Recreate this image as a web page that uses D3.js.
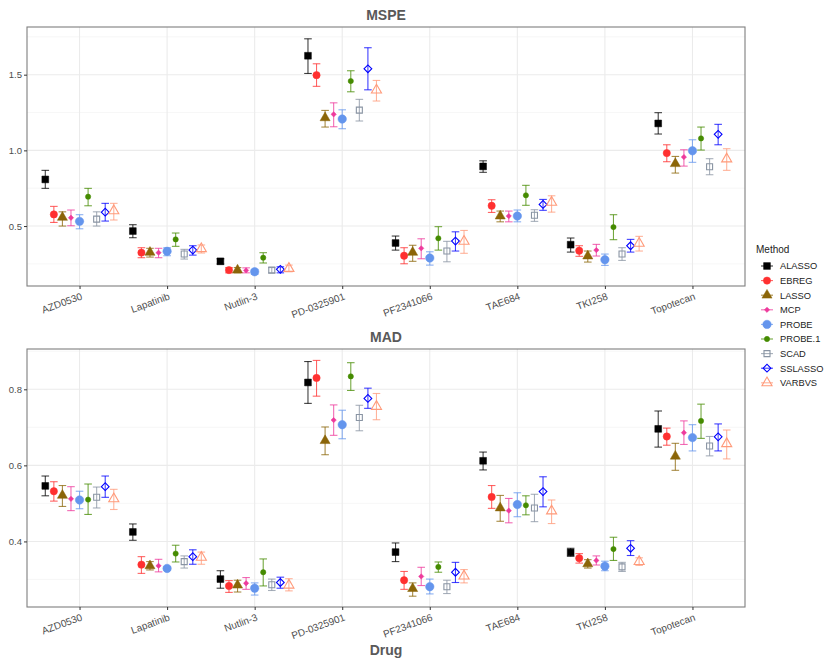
<!DOCTYPE html>
<html lang="en">
<head>
<meta charset="UTF-8">
<title>MSPE / MAD</title>
<script src="https://d3js.org/d3.v7.min.js"></script>
<style>
  body { margin: 0; background: #fff; }
  text { font-family: "Liberation Sans", Arial, sans-serif; }
</style>
</head>
<body>
<svg class="chart"></svg>
<script>
const W = 830, H = 664

const drugs = ['AZD0530', 'Lapatinib', 'Nutlin-3', 'PD-0325901', 'PF2341066', 'TAE684', 'TKI258', 'Topotecan']
const methods = ['ALASSO', 'EBREG', 'LASSO', 'MCP', 'PROBE', 'PROBE.1', 'SCAD', 'SSLASSO', 'VARBVS']
const colors = ['#000000', '#FF3030', '#8B6508', '#EE3A9C', '#6495ED', '#458B00', '#8994A3', '#0000FF', '#FF9A7A']

// one row per method, one value per drug
const mspeMean = [
  [0.808, 0.467, 0.267, 1.625, 0.388, 0.894, 0.377, 1.178],
  [0.577, 0.324, 0.209, 1.497, 0.304, 0.634, 0.337, 0.982],
  [0.557, 0.326, 0.209, 1.215, 0.326, 0.566, 0.302, 0.912],
  [0.555, 0.324, 0.207, 1.238, 0.353, 0.566, 0.341, 0.956],
  [0.531, 0.333, 0.198, 1.207, 0.289, 0.566, 0.278, 0.997],
  [0.694, 0.412, 0.291, 1.458, 0.419, 0.703, 0.493, 1.079],
  [0.546, 0.315, 0.209, 1.266, 0.335, 0.571, 0.315, 0.892],
  [0.592, 0.341, 0.214, 1.539, 0.401, 0.643, 0.370, 1.106],
  [0.601, 0.350, 0.220, 1.398, 0.399, 0.657, 0.386, 0.943]
]
const mspeLo = [
  [0.749, 0.423, 0.249, 1.508, 0.341, 0.855, 0.328, 1.108],
  [0.524, 0.291, 0.191, 1.423, 0.251, 0.590, 0.300, 0.925],
  [0.500, 0.295, 0.191, 1.154, 0.267, 0.528, 0.262, 0.850],
  [0.502, 0.291, 0.191, 1.156, 0.284, 0.528, 0.302, 0.896],
  [0.482, 0.304, 0.181, 1.143, 0.242, 0.528, 0.240, 0.921],
  [0.634, 0.366, 0.256, 1.387, 0.341, 0.637, 0.410, 1.002],
  [0.500, 0.282, 0.191, 1.194, 0.264, 0.531, 0.273, 0.839],
  [0.533, 0.308, 0.191, 1.400, 0.335, 0.604, 0.328, 1.037],
  [0.540, 0.322, 0.198, 1.326, 0.320, 0.592, 0.335, 0.868]
]
const mspeHi = [
  [0.868, 0.509, 0.284, 1.737, 0.434, 0.931, 0.421, 1.249],
  [0.630, 0.357, 0.226, 1.572, 0.357, 0.674, 0.370, 1.037],
  [0.594, 0.353, 0.226, 1.264, 0.373, 0.599, 0.335, 0.960],
  [0.606, 0.353, 0.224, 1.314, 0.416, 0.599, 0.379, 1.004],
  [0.575, 0.357, 0.214, 1.268, 0.330, 0.606, 0.315, 1.070],
  [0.749, 0.454, 0.324, 1.526, 0.496, 0.769, 0.575, 1.154],
  [0.594, 0.346, 0.226, 1.337, 0.399, 0.608, 0.357, 0.945],
  [0.650, 0.370, 0.231, 1.678, 0.462, 0.676, 0.412, 1.172],
  [0.650, 0.375, 0.242, 1.462, 0.471, 0.700, 0.432, 1.011]
]

const madMean = [
  [0.546, 0.425, 0.301, 0.818, 0.372, 0.612, 0.371, 0.696],
  [0.532, 0.339, 0.283, 0.830, 0.298, 0.517, 0.356, 0.676],
  [0.521, 0.336, 0.285, 0.665, 0.276, 0.488, 0.341, 0.624],
  [0.512, 0.336, 0.290, 0.719, 0.308, 0.481, 0.350, 0.686],
  [0.509, 0.329, 0.277, 0.707, 0.281, 0.497, 0.335, 0.673],
  [0.510, 0.368, 0.319, 0.834, 0.333, 0.495, 0.380, 0.717],
  [0.516, 0.347, 0.286, 0.726, 0.281, 0.488, 0.333, 0.651],
  [0.544, 0.360, 0.292, 0.776, 0.319, 0.531, 0.382, 0.675],
  [0.512, 0.358, 0.285, 0.755, 0.309, 0.480, 0.347, 0.657]
]
const madLo = [
  [0.520, 0.403, 0.277, 0.763, 0.347, 0.588, 0.361, 0.648],
  [0.506, 0.316, 0.266, 0.782, 0.274, 0.487, 0.343, 0.653],
  [0.492, 0.325, 0.267, 0.628, 0.256, 0.453, 0.330, 0.587],
  [0.481, 0.320, 0.274, 0.679, 0.284, 0.449, 0.338, 0.655],
  [0.486, 0.324, 0.259, 0.670, 0.262, 0.465, 0.323, 0.638],
  [0.471, 0.346, 0.283, 0.797, 0.319, 0.470, 0.350, 0.671],
  [0.488, 0.330, 0.271, 0.691, 0.263, 0.452, 0.321, 0.625],
  [0.516, 0.340, 0.277, 0.750, 0.292, 0.491, 0.363, 0.638],
  [0.484, 0.340, 0.270, 0.720, 0.291, 0.447, 0.337, 0.617]
]
const madHi = [
  [0.572, 0.446, 0.323, 0.873, 0.396, 0.635, 0.382, 0.743],
  [0.557, 0.360, 0.297, 0.876, 0.321, 0.547, 0.368, 0.698],
  [0.547, 0.347, 0.298, 0.701, 0.291, 0.521, 0.352, 0.658],
  [0.544, 0.353, 0.305, 0.759, 0.332, 0.513, 0.362, 0.717],
  [0.532, 0.334, 0.291, 0.745, 0.301, 0.528, 0.348, 0.707],
  [0.551, 0.390, 0.354, 0.870, 0.346, 0.520, 0.411, 0.761],
  [0.543, 0.362, 0.301, 0.758, 0.298, 0.524, 0.345, 0.676],
  [0.572, 0.378, 0.306, 0.803, 0.345, 0.570, 0.402, 0.709],
  [0.537, 0.372, 0.302, 0.789, 0.326, 0.509, 0.357, 0.693]
]

const mspeTicks = [0.5, 1.0, 1.5]
const mspeMinor = [0.25, 0.75, 1.25, 1.75]
const madTicks = [0.4, 0.6, 0.8]
const madMinor = [0.3, 0.5, 0.7, 0.9]

const panels = [
  { title: 'MSPE', top: 27, bottom: 286, domain: [0.104, 1.815], ticks: mspeTicks, minor: mspeMinor, mean: mspeMean, lo: mspeLo, hi: mspeHi },
  { title: 'MAD', top: 349, bottom: 607, domain: [0.2276, 0.906], ticks: madTicks, minor: madMinor, mean: madMean, lo: madLo, hi: madHi }
]

const left = 27, right = 745
const svg = d3.select('.chart').attr('width', W).attr('height', H)
  .attr('viewBox', `0 0 ${W} ${H}`)

const x = d3.scalePoint().domain(drugs).range([left, right]).padding(0.6)
const dodge = x.step() * 0.88 / methods.length

// shape per method: [symbol type, size, filled, rotation]
const shapes = [
  [d3.symbolSquare, 46, true, 0],
  [d3.symbolCircle, 42, true, 0],
  [d3.symbolTriangle, 44, true, 0],
  [d3.symbolSquare, 14, true, 45],
  [d3.symbolCircle, 56, true, 0],
  [d3.symbolCircle, 22, true, 0],
  [d3.symbolSquare, 36, false, 0],
  [d3.symbolSquare, 30, false, 45],
  [d3.symbolTriangle, 44, false, 0]
]

function drawPoint(g, m, cx, cy) {
  const s = shapes[m]
  g.append('path')
    .attr('d', d3.symbol().type(s[0]).size(s[1])())
    .attr('transform', `translate(${cx},${cy}) rotate(${s[3]})`)
    .attr('fill', s[2] ? colors[m] : 'none')
    .attr('stroke', colors[m])
    .attr('stroke-width', s[2] ? 0.5 : 1.1)
}

panels.forEach(p => {
  const y = d3.scaleLinear().domain(p.domain).range([p.bottom, p.top])
  const g = svg.append('g')

  // grid
  g.selectAll('.minor').data(p.minor.filter(v => v > p.domain[0] && v < p.domain[1])).join('line')
    .attr('x1', left).attr('x2', right).attr('y1', d => y(d)).attr('y2', d => y(d))
    .attr('stroke', '#F2F2F2').attr('stroke-width', 0.6)
  g.selectAll('.major').data(p.ticks).join('line')
    .attr('x1', left).attr('x2', right).attr('y1', d => y(d)).attr('y2', d => y(d))
    .attr('stroke', '#EBEBEB').attr('stroke-width', 1.1)
  g.selectAll('.vgrid').data(drugs).join('line')
    .attr('x1', d => x(d)).attr('x2', d => x(d)).attr('y1', p.top).attr('y2', p.bottom)
    .attr('stroke', '#EBEBEB').attr('stroke-width', 1.1)

  // error bars and points
  methods.forEach((mName, m) => {
    drugs.forEach((d, j) => {
      const cx = x(d) + (m - (methods.length - 1) / 2) * dodge
      const eb = g.append('g').attr('stroke', colors[m]).attr('stroke-opacity', 0.75).attr('stroke-width', 1.1)
      eb.append('line').attr('x1', cx).attr('x2', cx).attr('y1', y(p.lo[m][j])).attr('y2', y(p.hi[m][j]))
      eb.append('line').attr('x1', cx - 3.8).attr('x2', cx + 3.8).attr('y1', y(p.lo[m][j])).attr('y2', y(p.lo[m][j]))
      eb.append('line').attr('x1', cx - 3.8).attr('x2', cx + 3.8).attr('y1', y(p.hi[m][j])).attr('y2', y(p.hi[m][j]))
      drawPoint(g, m, cx, y(p.mean[m][j]))
    })
  })

  // border
  g.append('rect').attr('x', left).attr('y', p.top).attr('width', right - left).attr('height', p.bottom - p.top)
    .attr('fill', 'none').attr('stroke', '#7F7F7F').attr('stroke-width', 1.1)

  // y axis
  const ya = g.append('g').attr('transform', `translate(${left},0)`)
    .call(d3.axisLeft(y).tickValues(p.ticks).tickFormat(d3.format('.1f')).tickSize(3).tickPadding(2))
  ya.select('.domain').remove()
  ya.selectAll('line').attr('stroke', '#333').attr('stroke-width', 1)
  ya.selectAll('text').attr('fill', '#4D4D4D').style('font-size', '9.5px')

  // x axis
  const xa = g.append('g').attr('transform', `translate(0,${p.bottom})`)
    .call(d3.axisBottom(x).tickSize(3))
  xa.select('.domain').remove()
  xa.selectAll('line').attr('stroke', '#333').attr('stroke-width', 1)
  xa.selectAll('text')
    .attr('fill', '#4D4D4D').style('font-size', '10px')
    .attr('text-anchor', 'end').attr('dy', null).attr('y', 0)
    .attr('transform', 'translate(3,13) rotate(-20)')

  // title
  g.append('text').attr('x', (left + right) / 2).attr('y', p.top - 7)
    .attr('text-anchor', 'middle').attr('fill', '#595959')
    .style('font-size', '14px').style('font-weight', 'bold').text(p.title)
})

svg.append('text').attr('x', (left + right) / 2).attr('y', 655)
  .attr('text-anchor', 'middle').attr('fill', '#595959')
  .style('font-size', '14px').style('font-weight', 'bold').text('Drug')

// legend
const lg = svg.append('g').attr('transform', 'translate(756,249)')
lg.append('text').attr('x', 0).attr('y', 4).attr('fill', '#222').style('font-size', '10px').text('Method')
methods.forEach((mName, m) => {
  const yy = 17 + m * 14.6
  lg.append('line').attr('x1', 5).attr('x2', 17).attr('y1', yy).attr('y2', yy)
    .attr('stroke', colors[m]).attr('stroke-opacity', 0.75).attr('stroke-width', 1.1)
  drawPoint(lg, m, 11, yy)
  lg.append('text').attr('x', 24).attr('y', yy + 3.3).attr('fill', '#222')
    .style('font-size', '9.3px').text(mName)
})
</script>
</body>
</html>
